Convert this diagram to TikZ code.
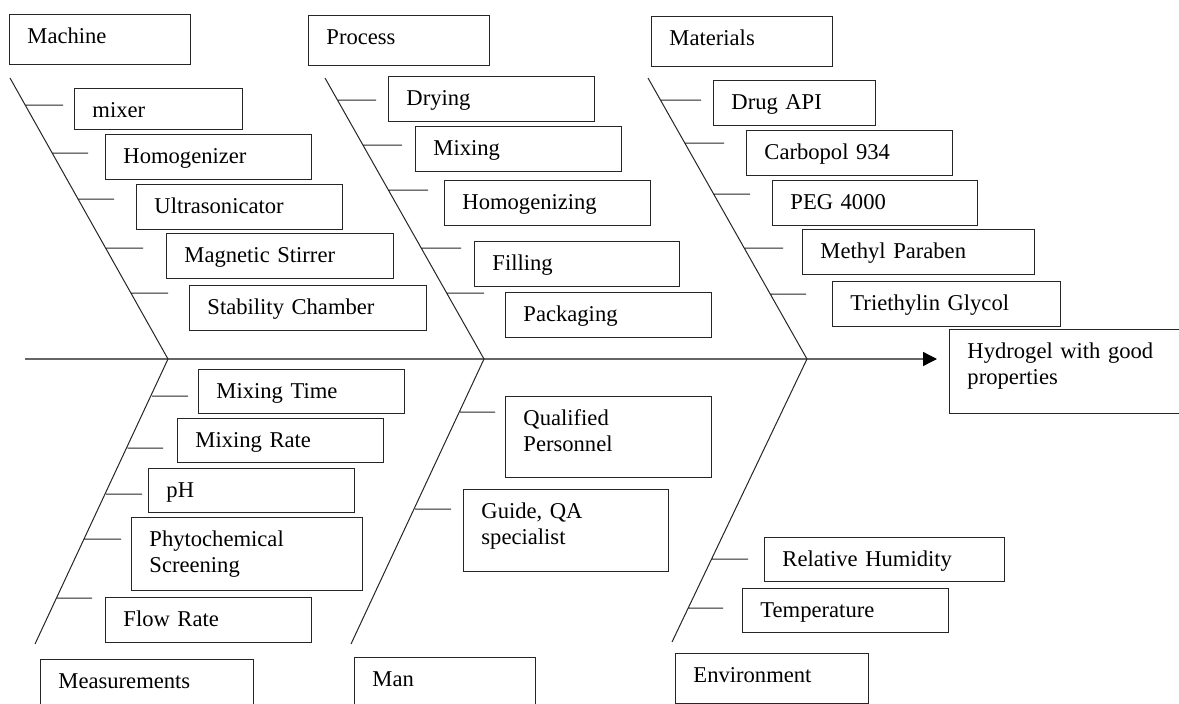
\documentclass[tikz,border=0pt]{standalone}
\usepackage{fontspec}
\setmainfont{Liberation Serif}
\usepackage{tikz}
\usetikzlibrary{arrows.meta}

\tikzset{
fishbox/.style={draw=black!85, line width=0.9pt, anchor=north west, inner xsep=18pt, inner ysep=0pt, text height=29pt, align=left},
cat/.style={fishbox, text width=145pt, text depth=21pt},
item/.style={fishbox, text width=170pt, text depth=16pt},
bone/.style={draw=black!85, line width=1pt},
mainline/.style={draw=black!60, line width=1.3pt}
}

\begin{document}
\begin{tikzpicture}[x=1pt, y=-1pt, font=\fontsize{22.6}{26}\selectfont]
\fill[white] (0,0) rectangle (1179,704);
\useasboundingbox (0,0) rectangle (1179,704);

\coordinate (tail) at (25,359);
\coordinate (jA) at (168,359);
\coordinate (jB) at (484,359);
\coordinate (jC) at (807,359);
\coordinate (machTop) at (10,78);
\coordinate (procTop) at (325,78);
\coordinate (matTop) at (648,78);
\coordinate (measBot) at (35,644);
\coordinate (manBot) at (351,644);
\coordinate (envBot) at (672,642);

\node[cat] (machine) at (9,14) {Machine};
\node[cat] (process) at (308,15) {Process};
\node[cat] (materials) at (651,16) {Materials};
\node[cat, text width=177pt, text depth=18pt] (measure) at (40,659) {Measurements};
\node[cat, text depth=20pt] (man) at (354,657) {Man};
\node[cat, text width=157pt] (environ) at (675,653) {Environment};

\node[item, text width=132pt, text depth=12pt] (mixer) at (74,88) {mixer};
\node[item] (homog) at (105,134) {Homogenizer};
\node[item] (ultra) at (136,184) {Ultrasonicator};
\node[item, text width=191pt] (stirrer) at (166,233) {Magnetic Stirrer};
\node[item, text width=201pt] (chamber) at (189,285) {Stability Chamber};

\node[item] (drying) at (388,76) {Drying};
\node[item] (mixing) at (415,126) {Mixing};
\node[item] (homogz) at (444,180) {Homogenizing};
\node[item, text width=169pt] (filling) at (474,241) {Filling};
\node[item] (packing) at (505,292) {Packaging};

\node[item, text width=126pt] (api) at (713,80) {Drug API};
\node[item] (carbopol) at (746,130) {Carbopol 934};
\node[item, text width=169pt] (peg) at (772,180) {PEG 4000};
\node[item, text width=196pt] (paraben) at (802,229) {Methyl Paraben};
\node[item, text width=192pt] (glycol) at (832,281) {Triethylin Glycol};

\node[item, text width=204pt, text depth=55pt] (hydro) at (949,329) {Hydrogel with good\\properties};

\node[item, text depth=15pt] (mtime) at (198,369) {Mixing Time};
\node[item, text depth=15pt] (mrate) at (177,418) {Mixing Rate};
\node[item, text depth=15pt] (ph) at (148,468) {pH};
\node[item, text width=195pt, text depth=44pt] (phyto) at (131,517) {Phytochemical\\Screening};
\node[item] (flow) at (105,597) {Flow Rate};

\node[item, text depth=52pt] (qualified) at (505,396) {Qualified\\Personnel};
\node[item, text width=169pt, text depth=53pt] (guide) at (463,489) {Guide, QA\\specialist};

\node[item, text width=204pt, text depth=15pt] (humidity) at (764,537) {Relative Humidity};
\node[item, text depth=15pt] (temp) at (742,588) {Temperature};

\draw[mainline, -{Triangle[length=14pt,width=14pt,black]}] (tail) -- ([xshift=-12pt]tail -| hydro.west);

\draw[bone]
(machTop) -- (jA) -- (measBot)
(procTop) -- (jB) -- (manBot)
(matTop) -- (jC) -- (envBot)
(25,105) -- (63,105)
(52,153) -- (88,153)
(78,199) -- (114,199)
(105.5,248) -- (143,248)
(131,293) -- (168,293)
(337,100) -- (376,100)
(363,145) -- (402,145)
(388,190) -- (428,190)
(421,248) -- (461,248)
(447,293) -- (484,293)
(660,100) -- (701,100)
(685,143) -- (724,143)
(714,194) -- (750,194)
(744,248) -- (783,248)
(770,294) -- (806,294)
(152,396) -- (188,396)
(127.5,448) -- (163,448)
(106,494) -- (142,494)
(84.5,539) -- (121,539)
(57,598) -- (92,598)
(460,412) -- (495,412)
(415,509) -- (451,509)
(711.6,559) -- (748,559)
(688,608) -- (723,608);
\end{tikzpicture}
\end{document}
